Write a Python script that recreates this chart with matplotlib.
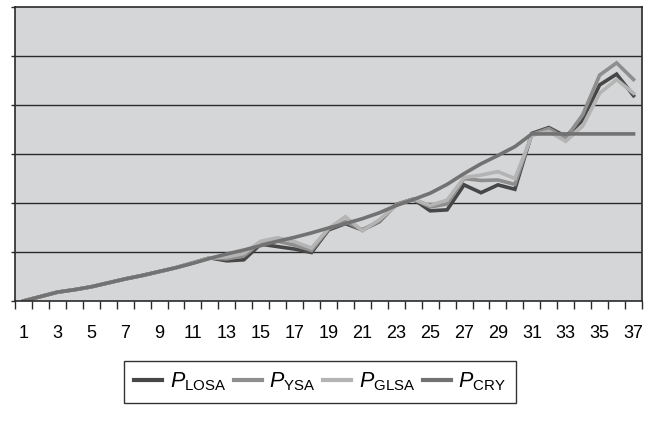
import numpy as np
import matplotlib
matplotlib.use('Agg')
import matplotlib.pyplot as plt

plt.rcParams['font.family'] = ['Liberation Sans', 'DejaVu Sans']
plt.rcParams['mathtext.fontset'] = 'custom'
plt.rcParams['mathtext.rm'] = 'Liberation Sans'
plt.rcParams['mathtext.it'] = 'Liberation Sans:italic'

periods = list(range(1, 38))
p_losa = [0.0, 0.09, 0.18, 0.23, 0.29, 0.37, 0.45, 0.52, 0.60, 0.68, 0.78, 0.88,
          0.82, 0.84, 1.16, 1.11, 1.06, 0.99, 1.45, 1.58, 1.45, 1.62, 1.97, 2.08,
          1.84, 1.86, 2.37, 2.21, 2.37, 2.28, 3.42, 3.54, 3.36, 3.69, 4.41, 4.63, 4.19]
p_ysa = [0.0, 0.09, 0.18, 0.23, 0.29, 0.37, 0.45, 0.52, 0.60, 0.68, 0.78, 0.88,
         0.86, 0.92, 1.19, 1.22, 1.14, 1.03, 1.47, 1.62, 1.45, 1.63, 1.97, 2.08,
         1.92, 1.98, 2.50, 2.46, 2.47, 2.38, 3.40, 3.52, 3.32, 3.80, 4.61, 4.86, 4.52]
p_glsa = [0.0, 0.09, 0.18, 0.23, 0.29, 0.37, 0.45, 0.52, 0.60, 0.68, 0.78, 0.88,
          0.90, 0.97, 1.22, 1.29, 1.21, 1.08, 1.48, 1.72, 1.43, 1.66, 1.95, 2.08,
          1.95, 2.06, 2.52, 2.57, 2.64, 2.50, 3.38, 3.46, 3.26, 3.57, 4.24, 4.52, 4.24]
p_cry = [0.0, 0.09, 0.18, 0.23, 0.29, 0.37, 0.45, 0.52, 0.60, 0.68, 0.77, 0.87,
         0.96, 1.04, 1.13, 1.22, 1.30, 1.39, 1.49, 1.58, 1.68, 1.80, 1.95, 2.07,
         2.20, 2.38, 2.60, 2.80, 2.97, 3.15, 3.41, 3.41, 3.41, 3.41, 3.41, 3.41, 3.41]

series = [
    (r'$P_{\mathrm{LOSA}}$', p_losa, '#474747'),
    (r'$P_{\mathrm{YSA}}$', p_ysa, '#8e8e8e'),
    (r'$P_{\mathrm{GLSA}}$', p_glsa, '#b4b4b4'),
    (r'$P_{\mathrm{CRY}}$', p_cry, '#727272'),
]

fig = plt.figure(figsize=(6.54, 4.21), dpi=100)
ax = fig.add_axes([15 / 654, 1 - 301 / 421, (642 - 15) / 654, (301 - 7) / 421])
ax.set_facecolor('#d5d6d8')

for label, vals, col in series:
    ax.plot(periods, vals, color=col, lw=2.6, label=label, solid_joinstyle='miter')

ax.set_xlim(0.5, 37.5)
ax.set_ylim(0, 6)
for v in range(1, 6):
    ax.axhline(v, color='#2a2a2a', lw=1.0, zorder=0.5)

ax.set_yticks(range(0, 7))
ax.set_yticklabels([])
ax.tick_params(axis='y', length=3, width=1, color='#2a2a2a')

ax.set_xticks(np.arange(0.5, 38, 1))
ax.set_xticklabels([])
ax.tick_params(axis='x', which='major', length=6, width=1, color='#2a2a2a')
ax.set_xticks(periods[::2], [str(p) for p in periods[::2]], minor=True)
ax.tick_params(axis='x', which='minor', length=0, pad=17, labelsize=13)

for s in ax.spines.values():
    s.set_color('#2a2a2a')
    s.set_linewidth(1.2)

leg = fig.legend(loc='center', bbox_to_anchor=(320 / 654, 1 - 382 / 421), ncol=4,
                 fontsize=15.5, frameon=True, fancybox=False, handlelength=1.3,
                 handletextpad=0.35, columnspacing=0.35, borderpad=0.45,
                 borderaxespad=0)
leg.get_frame().set_edgecolor('black')
leg.get_frame().set_linewidth(1.0)
for h in leg.get_lines():
    h.set_linewidth(3.0)

fig.savefig('out.png', dpi=100)
